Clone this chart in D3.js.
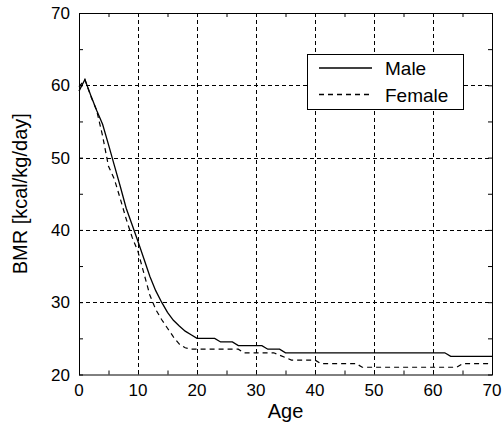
<!DOCTYPE html>
<html>
<head>
<meta charset="utf-8">
<script src="https://cdn.jsdelivr.net/npm/d3@7"></script>
<style>
  body { margin: 0; background: #fff; }
  text { font-family: "Liberation Sans", Arial, sans-serif; fill: #000; }
</style>
</head>
<body>
<div id="chart"></div>
<script>
// BMR by age
const maleAge = [0, 1, 2, 3, 4, 5, 6, 7, 8, 9, 10, 11, 12, 13, 14, 15, 16, 17, 18, 19, 20, 23, 24, 26, 27, 31, 32, 34, 35, 62, 63, 70];
const maleBmr = [59.2, 60.8, 58.6, 56.5, 54.6, 51.8, 48.9, 46, 43, 40.7, 38.4, 36, 33.6, 31.6, 30, 28.6, 27.5, 26.7, 26, 25.5, 25, 25, 24.5, 24.5, 24, 24, 23.5, 23.5, 23, 23, 22.5, 22.5];

const femaleAge = [0, 1, 2, 3, 4, 5, 6, 7, 8, 9, 10, 11, 12, 13, 14, 15, 16, 17, 18, 19, 27, 28, 33, 36, 40, 41, 47, 48, 64, 65, 70];
const femaleBmr = [59.8, 60.8, 58.5, 56.5, 53, 48.8, 47, 44.3, 41.5, 39, 37, 34, 31, 29, 27.6, 26.4, 25.2, 24.2, 23.7, 23.5, 23.5, 23, 23, 22, 22, 21.5, 21.5, 21, 21, 21.5, 21.5];

const seriesNames = ["Male", "Female"];
const xMajor = [0, 10, 20, 30, 40, 50, 60, 70];
const yMajor = [20, 30, 40, 50, 60, 70];
const xMinor = [5, 15, 25, 35, 45, 55, 65];
const yMinor = [25, 35, 45, 55, 65];

const W = 502, H = 425;
const plot = { left: 79, right: 492, top: 13, bottom: 374.5 };

const svg = d3.select("#chart").append("svg")
    .attr("width", W)
    .attr("height", H);

const x = d3.scaleLinear().domain([0, 70]).range([plot.left, plot.right]);
const y = d3.scaleLinear().domain([20, 70]).range([plot.bottom, plot.top]);

// grid lines
const grid = svg.append("g")
    .attr("stroke", "#000")
    .attr("stroke-width", 1)
    .attr("stroke-dasharray", "4,3");
grid.selectAll("line.gx")
    .data(xMajor.slice(1, -1))
    .enter().append("line")
    .attr("x1", d => Math.round(x(d)) + 0.5).attr("x2", d => Math.round(x(d)) + 0.5)
    .attr("y1", plot.top).attr("y2", plot.bottom);
grid.selectAll("line.gy")
    .data(yMajor.slice(1, -1))
    .enter().append("line")
    .attr("y1", d => Math.round(y(d)) + 0.5).attr("y2", d => Math.round(y(d)) + 0.5)
    .attr("x1", plot.left).attr("x2", plot.right);

// inward ticks on all four sides
const allX = xMajor.concat(xMinor), allY = yMajor.concat(yMinor);
const tickLen = 4;
function ticks(g) { g.selectAll(".domain").remove(); g.selectAll("line").attr("stroke", "#000"); }

svg.append("g").attr("transform", `translate(0,${plot.bottom})`)
    .call(d3.axisBottom(x).tickValues(allX).tickSize(-tickLen).tickFormat(""))
    .call(ticks);
svg.append("g").attr("transform", `translate(0,${plot.top})`)
    .call(d3.axisTop(x).tickValues(allX).tickSize(-tickLen).tickFormat(""))
    .call(ticks);
svg.append("g").attr("transform", `translate(${plot.left},0)`)
    .call(d3.axisLeft(y).tickValues(allY).tickSize(-tickLen).tickFormat(""))
    .call(ticks);
svg.append("g").attr("transform", `translate(${plot.right},0)`)
    .call(d3.axisRight(y).tickValues(allY).tickSize(-tickLen).tickFormat(""))
    .call(ticks);

// tick labels
svg.append("g").selectAll("text")
    .data(xMajor)
    .enter().append("text")
    .attr("x", d => x(d))
    .attr("y", 396)
    .attr("text-anchor", "middle")
    .style("font-size", "17px")
    .text(d => d);
svg.append("g").selectAll("text")
    .data(yMajor)
    .enter().append("text")
    .attr("x", 70)
    .attr("y", d => y(d) + 6)
    .attr("text-anchor", "end")
    .style("font-size", "17px")
    .text(d => d);

// frame
svg.append("rect")
    .attr("x", plot.left + 0.5).attr("y", plot.top + 0.5)
    .attr("width", plot.right - plot.left).attr("height", plot.bottom - plot.top)
    .attr("fill", "none").attr("stroke", "#000").attr("stroke-width", 1);

// series
const line = d3.line().x(d => x(d[0])).y(d => y(d[1]));
const male = maleAge.map((a, i) => [a, maleBmr[i]]);
const female = femaleAge.map((a, i) => [a, femaleBmr[i]]);

svg.append("path").datum(male)
    .attr("d", line)
    .attr("fill", "none").attr("stroke", "#000").attr("stroke-width", 1.3);
svg.append("path").datum(female)
    .attr("d", line)
    .attr("fill", "none").attr("stroke", "#000").attr("stroke-width", 1.2)
    .attr("stroke-dasharray", "5,4");

// axis titles
svg.append("text")
    .attr("x", (plot.left + plot.right) / 2)
    .attr("y", 418)
    .attr("text-anchor", "middle")
    .style("font-size", "20px")
    .text("Age");
svg.append("text")
    .attr("transform", `translate(27,${(plot.top + plot.bottom) / 2}) rotate(-90)`)
    .attr("text-anchor", "middle")
    .style("font-size", "20px")
    .text("BMR [kcal/kg/day]");

// legend
const legend = svg.append("g");
legend.append("rect")
    .attr("x", 307.5).attr("y", 54.5)
    .attr("width", 156).attr("height", 55)
    .attr("fill", "#fff").attr("stroke", "#000");
const dashes = [null, "5,4"];
seriesNames.forEach((name, i) => {
    const ly = 68 + i * 26.5;
    legend.append("line")
        .attr("x1", 319).attr("x2", 372)
        .attr("y1", ly).attr("y2", ly)
        .attr("stroke", "#000").attr("stroke-width", 1.3)
        .attr("stroke-dasharray", dashes[i]);
    legend.append("text")
        .attr("x", 385)
        .attr("y", ly + 7)
        .style("font-size", "19px")
        .text(name);
});
</script>
</body>
</html>
